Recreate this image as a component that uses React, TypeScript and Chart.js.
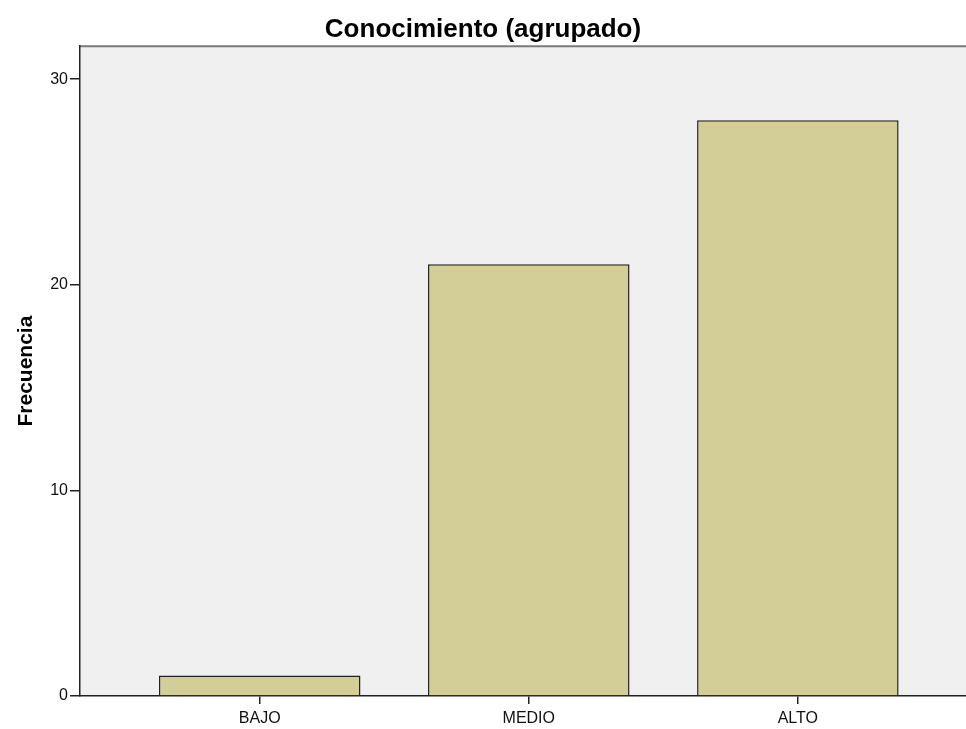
import React, { useEffect, useRef } from "react";
import { Chart, registerables } from "chart.js";

Chart.register(...registerables);

const chartTitle = "Conocimiento (agrupado)";
const yAxisTitle = "Frecuencia";
const categories = ["BAJO", "MEDIO", "ALTO"];
const frequencies = [1, 21, 28];
const yTickValues = [0, 10, 20, 30];

const FONT = "'Liberation Sans', Arial, sans-serif";

const plotBackground = {
  id: "plotBackground",
  beforeDraw(chart: any) {
    const { ctx, chartArea } = chart;
    if (!chartArea) return;
    ctx.save();
    ctx.fillStyle = "#f0f0f0";
    ctx.fillRect(chartArea.left, chartArea.top, chartArea.right - chartArea.left, chartArea.bottom - chartArea.top);
    ctx.strokeStyle = "#7a7a7a";
    ctx.lineWidth = 2;
    ctx.beginPath();
    ctx.moveTo(chartArea.left, chartArea.top);
    ctx.lineTo(chartArea.right, chartArea.top);
    ctx.stroke();
    ctx.restore();
  },
};

export default function App() {
  const canvasRef = useRef<HTMLCanvasElement | null>(null);

  useEffect(() => {
    if (!canvasRef.current) return;
    const chart = new Chart(canvasRef.current, {
      type: "bar",
      data: {
        datasets: [
          {
            data: frequencies.map((v, i) => ({ x: i, y: v })),
            backgroundColor: "#d3ce97",
            borderColor: "#222",
            borderWidth: 1.5,
            borderSkipped: "bottom",
            categoryPercentage: 1,
            barPercentage: 0.749,
          },
        ],
      },
      options: {
        responsive: false,
        animation: false,
        devicePixelRatio: 1,
        layout: { padding: 0 },
        plugins: {
          legend: { display: false },
          tooltip: { enabled: false },
          title: {
            display: true,
            text: chartTitle,
            color: "#000",
            font: { family: FONT, size: 26, weight: "bold" },
            padding: { top: 14, bottom: 1 },
          },
        },
        scales: {
          x: {
            type: "linear",
            offset: false,
            min: -0.668,
            max: 2.625,
            afterBuildTicks: (scale: any) => {
              scale.ticks = categories.map((_, i) => ({ value: i }));
            },
            afterFit: (scale: any) => {
              scale.height = 33;
            },
            ticks: {
              autoSkip: false,
              maxRotation: 0,
              color: "#111",
              font: { family: FONT, size: 16 },
              padding: 5,
              callback: (v: any) => categories[Math.round(Number(v))] ?? "",
            },
            grid: {
              offset: false,
              drawOnChartArea: false,
              drawTicks: true,
              tickLength: 8,
              color: "#222",
              lineWidth: 1.5,
            },
            border: { display: true, color: "#222", width: 1.5 },
          },
          y: {
            type: "linear",
            min: 0,
            max: 31.6,
            afterBuildTicks: (scale: any) => {
              scale.ticks = yTickValues.map((v) => ({ value: v }));
            },
            afterFit: (scale: any) => {
              scale.width = 80;
            },
            ticks: {
              color: "#111",
              font: { family: FONT, size: 16 },
              padding: 2,
            },
            grid: {
              drawOnChartArea: false,
              drawTicks: true,
              tickLength: 10,
              color: "#222",
              lineWidth: 1.5,
            },
            border: { display: true, color: "#222", width: 1.5 },
            title: {
              display: true,
              text: yAxisTitle,
              color: "#000",
              font: { family: FONT, size: 21, weight: "bold" },
              padding: { top: 14, bottom: 0 },
            },
          },
        },
      },
      plugins: [plotBackground],
    } as any);
    return () => chart.destroy();
  }, []);

  return (
    <div style={{ position: "absolute", left: 0, top: 0, width: 966, height: 729, background: "#fff" }}>
      <canvas ref={canvasRef} width={966} height={729} style={{ width: 966, height: 729, display: "block" }} />
    </div>
  );
}
